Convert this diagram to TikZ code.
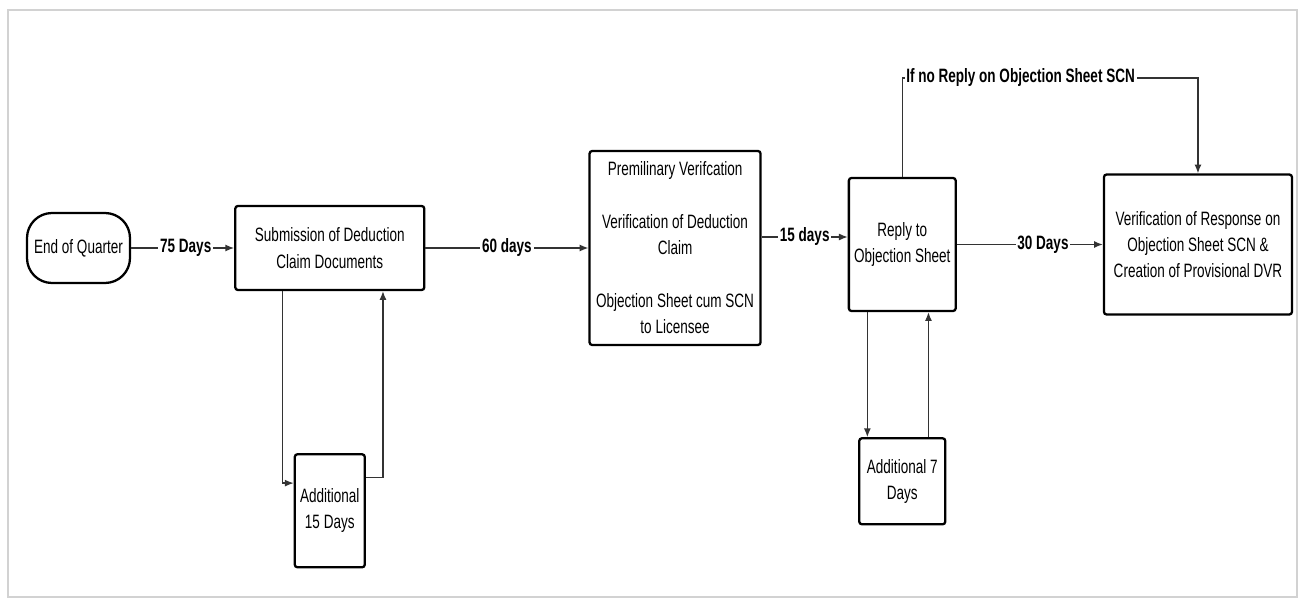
\documentclass[tikz,border=0pt]{standalone}
\usepackage{fontspec}
\setmainfont{Liberation Sans}[FakeStretch=0.7]
\usetikzlibrary{arrows.meta, positioning, calc}

\begin{document}
\begin{tikzpicture}[
    >={Latex[length=5pt,width=4pt]},
    box/.style={draw, line width=1.3pt, rounded corners=1.5pt, align=center, inner sep=3pt, font=\fontsize{11}{15}\selectfont},
    term/.style={box, rounded corners=0.5cm, minimum width=2.06cm, minimum height=1.4cm},
    flow/.style={->, line width=0.75pt, draw=black!80},
    lab/.style={fill=white, inner sep=1pt, font=\fontsize{11}{13}\selectfont\bfseries},
    frame/.style={draw=gray!35, line width=1.6pt},
  ]
  \useasboundingbox (0,0) rectangle (26,12);
  \draw[frame] (0.16,0.06) rectangle (25.94,11.8);
  % main line
  \node[term] (eoq) at (1.57,7.04) {End of Quarter};
  \node[box, minimum width=3.78cm, minimum height=1.68cm, right=2.06cm of eoq] (sub) {Submission of Deduction\\Claim Documents};
  \node[box, minimum width=3.42cm, minimum height=3.88cm, right=3.26cm of sub] (prel) {Premilinary Verifcation\\[15pt]Verification of Deduction\\Claim\\[15pt]Objection Sheet cum SCN\\to Licensee};
  \node[box, minimum width=2.02cm, minimum height=2.66cm, right=1.72cm of prel, yshift=0.07cm] (reply) {Reply to\\Objection Sheet};
  \node[box, minimum width=3.76cm, minimum height=2.8cm, right=2.92cm of reply] (verif) {Verification of Response on\\Objection Sheet SCN \&\\Creation of Provisional DVR};
  % extensions
  \node[box, minimum width=1.36cm, minimum height=2.26cm, below=3.24cm of sub] (add15) {Additional\\15 Days};
  \node[box, minimum width=1.72cm, minimum height=1.72cm, below=2.5cm of reply] (add7) {Additional 7\\Days};
  \draw[flow] (eoq) -- node[lab, pos=0.53] {75 Days} (sub);
  \draw[flow] (sub) -- node[lab] {60 days} (prel);
  \coordinate (r15) at ([yshift=0.15cm]reply.west);
  \draw[flow] (r15 -| prel.east) -- node[lab] {15 days} (r15);
  \draw[flow] (reply) -- node[lab, pos=0.59] {30 Days} (verif);
  % no reply route
  \coordinate (top) at ($(reply.north)+(0,1.98)$);
  \draw[flow] (reply.north) -- (top) -- node[lab, pos=0.4] {If no Reply on Objection Sheet SCN} (top -| verif.north) -- (verif.north);
  % loops
  \coordinate (s15a) at ($(sub.south west)!0.254!(sub.south east)$);
  \coordinate (s15b) at ($(sub.south west)!0.778!(sub.south east)$);
  \coordinate (a15a) at ($(add15.north west)!0.26!(add15.south west)$);
  \coordinate (a15b) at ($(add15.north east)!0.21!(add15.south east)$);
  \draw[flow] (s15a) |- (a15a);
  \draw[flow] (a15b) -| (s15b);
  \coordinate (r7a) at ($(reply.south west)!0.18!(reply.south east)$);
  \coordinate (r7b) at ($(reply.south west)!0.74!(reply.south east)$);
  \draw[flow] (r7a) -- (r7a |- add7.north);
  \draw[flow] (r7b |- add7.north) -- (r7b);
\end{tikzpicture}
\end{document}
